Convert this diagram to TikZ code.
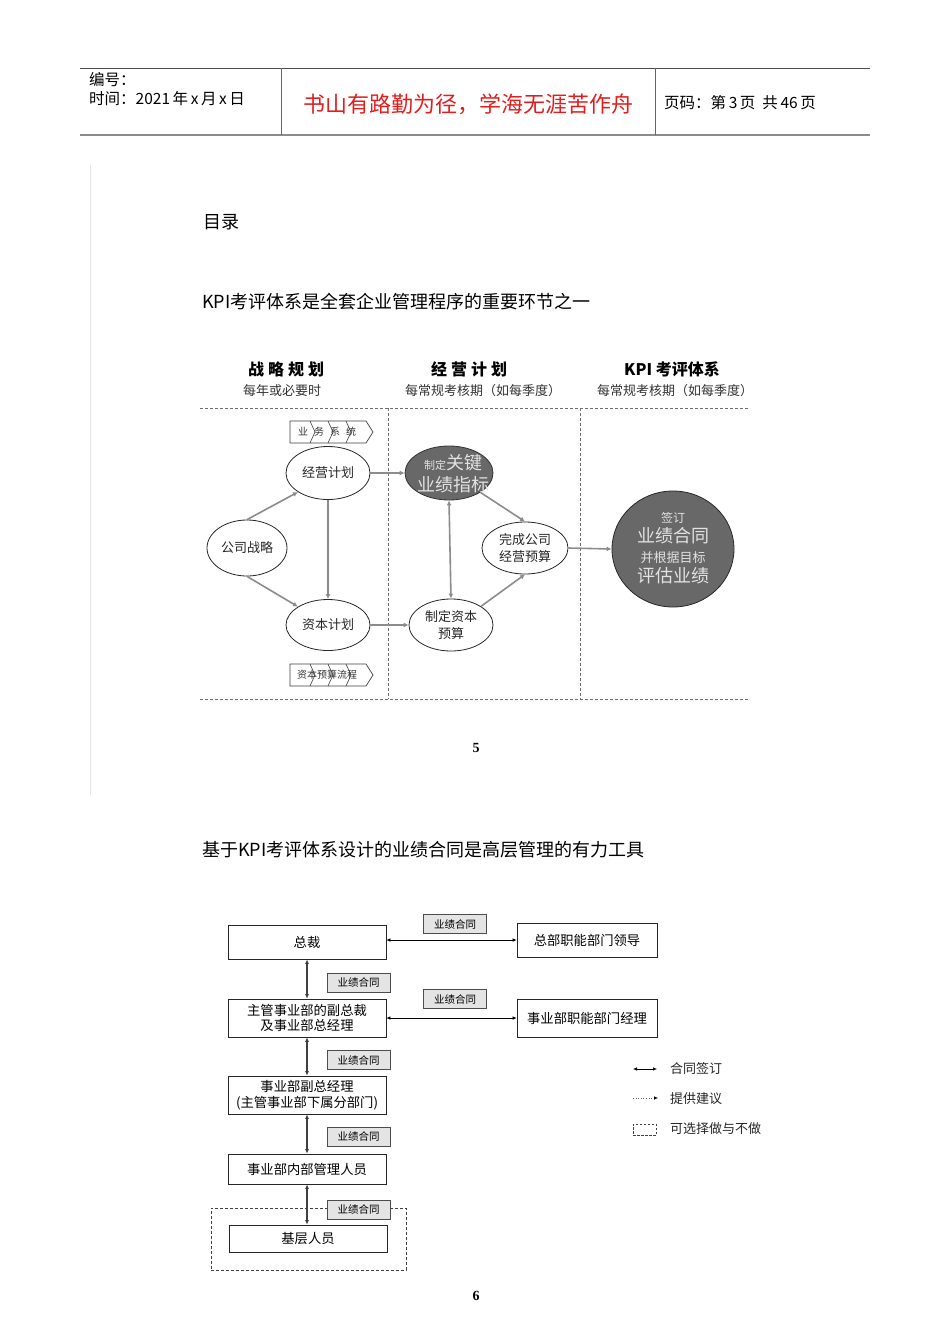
\documentclass[tikz,border=0pt]{standalone}
\usepackage{fontspec}
\setmainfont{Noto Sans CJK SC}
\newfontfamily\numserif{Liberation Serif}
\usetikzlibrary{shapes.geometric,arrows.meta}
\definecolor{arrg}{HTML}{8C8C8C}
\definecolor{dashg}{HTML}{6E6E6E}
\definecolor{darkf}{HTML}{686868}
\definecolor{lightt}{HTML}{E2E2E2}
\definecolor{hred}{HTML}{E01E1E}
\definecolor{lblf}{HTML}{E4E4E4}
\newcommand\fsz[1]{\fontsize{#1}{#1}\selectfont}
\newcommand\chev[3]{%
  \draw[black!75, line width=0.7pt, fill=white] (#1,#2) -- ++(76,0) -- ++(7,11) -- ++(-7,11) -- ++(-76,0) -- cycle;
  \foreach \d in {20,38,56}{\draw[black!75, line width=0.6pt] (#1+\d,#2) -- ++(5,11) -- ++(-5,11);}
}
\begin{document}
\begin{tikzpicture}[x=1pt,y=-1pt,
  ell/.style={ellipse, draw=black!85, line width=0.8pt, fill=white, inner sep=0pt},
  ellt/.style={inner sep=0pt, align=center, text=black!85, font=\fontsize{13}{17}\selectfont},
  garr/.style={draw=arrg, line width=1.6pt, -{Latex[length=5pt,width=5pt]}},
  gdarr/.style={draw=arrg, line width=1.6pt, {Latex[length=5pt,width=5pt]}-{Latex[length=5pt,width=5pt]}},
  dsh/.style={draw=dashg, line width=0.9pt, dash pattern=on 3pt off 2pt},
  bx/.style={draw=black!85, line width=0.7pt, fill=white, inner sep=0pt, align=center, font=\fontsize{13.3}{16}\selectfont},
  lb/.style={draw=black!70, fill=lblf, line width=0.8pt, inner sep=0pt, minimum width=63pt, minimum height=19pt, font=\fontsize{10.5}{12}\selectfont},
  barr/.style={black, line width=0.6pt, {Latex[length=4pt,width=3.5pt]}-{Latex[length=4pt,width=3.5pt]}},
  varr/.style={black!75, line width=1.3pt, {Latex[length=4.5pt,width=4pt]}-{Latex[length=4.5pt,width=4pt]}},
  txt/.style={inner sep=0pt}
]
\useasboundingbox (0,0) rectangle (950,1344);
\fill[white] (0,0) rectangle (950,1344);

% ---------- header ----------
\draw[black!70, line width=1pt] (80,68) -- (870,68);
\draw[black!45, line width=2.2pt] (80,135) -- (870,135);
\draw[black!60, line width=0.8pt] (281,68) -- (281,135);
\draw[black!60, line width=0.8pt] (655,68) -- (655,135);
\node[txt, anchor=west, font=\fsz{15.5}] (h1) at (89,80) {编号：};
\node[txt, anchor=west, font=\fsz{15.5}] (h2) at (89,99) {时间：2021\,年\,x\,月\,x\,日};
\node[txt, text=hred, font=\fsz{22}] (h3) at (468,104) {书山有路勤为径，学海无涯苦作舟};
\node[txt, anchor=west, font=\fsz{15.5}] (h4) at (664,103) {页码：第\,3\,页\ \ 共\,46\,页};

% faint left rule
\draw[black!10, line width=1pt] (90,165) -- (90,795);

% ---------- titles ----------
\node[txt, anchor=west, font=\fsz{18}] (t0) at (203,222) {目录};
\node[txt, anchor=west, font=\fsz{18}] (t1) at (202,302) {KPI考评体系是全套企业管理程序的重要环节之一};

% column headings
\node[txt, font=\bfseries\fsz{16}] (c1) at (286,369) {战\kern4pt 略\kern4pt 规\kern4pt 划};
\node[txt, font=\fsz{13}, text=black!80] (c1s) at (282,391) {每年或必要时};
\node[txt, font=\bfseries\fsz{16}] (c2) at (469,369) {经\kern4pt 营\kern4pt 计\kern4pt 划};
\node[txt, font=\fsz{13}, text=black!80] (c2s) at (483,391) {每常规考核期（如每季度）};
\node[txt, font=\bfseries\fsz{16}] (c3) at (672,369) {KPI 考评体系};
\node[txt, font=\fsz{13}, text=black!80] (c3s) at (675,391) {每常规考核期（如每季度）};

% dashed frame
\draw[dsh] (200,408) -- (750,408);
\draw[dsh] (200,699) -- (750,699);
\draw[dsh] (388,408) -- (388,699);
\draw[dsh] (580,408) -- (580,699);

% chevrons
\chev{290}{421}{}
\node[txt, font=\fsz{10}, text=black!80] (cv1) at (327,432) {业\kern6pt 务\kern6pt 系\kern6pt 统};
\chev{290}{664}{}
\node[txt, font=\fsz{10}, text=black!80] (cv2) at (327,675) {资本预算流程};

% ellipses
\node[ell, minimum width=80pt, minimum height=56pt] (gs) at (247,548) {};
\node[ell, minimum width=84pt, minimum height=53pt] (jy) at (328,473) {};
\node[ell, minimum width=84pt, minimum height=51pt] (zb) at (328,625) {};
\node[ell, minimum width=88pt, minimum height=54pt, fill=darkf, draw=black!80] (gk) at (449,473) {};
\node[ell, minimum width=86pt, minimum height=52pt] (wc) at (525,548) {};
\node[ell, minimum width=84pt, minimum height=52pt] (zy) at (451,625) {};
\node[ell, minimum width=122pt, minimum height=116pt, fill=darkf, draw=black!85] (qd) at (673,549) {};

\node[ellt] (gst) at (gs) {公司战略};
\node[ellt] (jyt) at (jy) {经营计划};
\node[ellt] (zbt) at (zb) {资本计划};
\node[ellt] (wct) at (wc) {完成公司\\经营预算};
\node[ellt] (zyt) at (zy) {制定资本\\预算};
\node[ellt, text=lightt, font=\fontsize{18}{22}\selectfont] (gkt) at (453,474) {{\fontsize{11}{22}\selectfont 制定}关键\\业绩指标};
\node[ellt, text=lightt, font=\fontsize{18}{20}\selectfont] (qdt) at (673,548) {{\fontsize{12}{20}\selectfont 签订}\\业绩合同\\{\fontsize{13}{20}\selectfont 并根据目标}\\评估业绩};

% gray arrows
\draw[garr] (gs.north) -- (jy.south west);
\draw[garr] (gs.south) -- (zb.north west);
\draw[garr] (jy.south) -- (zb.north);
\draw[garr] (jy.east) -- (gk.west);
\draw[garr] (zb.east) -- (zy.west);
\draw[gdarr] (gk.south) -- (zy.north);
\draw[garr] (gk.south east) -- (wc.north);
\draw[garr] (zy.north east) -- (wc.south);
\draw[garr] (wc.east) -- (qd.west);

\node[txt, font=\numserif\bfseries\fsz{14}] (p5) at (476,748) {5};

% ---------- second diagram ----------
\node[txt, anchor=west, font=\fsz{18}] (t2) at (202,850) {基于KPI考评体系设计的业绩合同是高层管理的有力工具};

\node[draw=black!75, line width=0.8pt, dash pattern=on 3pt off 2pt, minimum width=195pt, minimum height=62pt, inner sep=0pt] (opt) at (308.5,1239) {};

\node[bx, minimum width=158pt, minimum height=34pt] (zc) at (307,942) {总裁};
\node[bx, minimum width=140pt, minimum height=34pt] (hq) at (587,940) {总部职能部门领导};
\node[bx, minimum width=158pt, minimum height=38pt, font=\fontsize{13.3}{15.5}\selectfont] (fz) at (307,1018) {主管事业部的副总裁\\及事业部总经理};
\node[bx, minimum width=140pt, minimum height=38pt] (sz) at (587,1018) {事业部职能部门经理};
\node[bx, minimum width=158pt, minimum height=38pt, font=\fontsize{13.3}{15.5}\selectfont] (fj) at (307,1095) {事业部副总经理\\(主管事业部下属分部门)};
\node[bx, minimum width=158pt, minimum height=30pt] (nb) at (307,1169) {事业部内部管理人员};
\node[bx, minimum width=158pt, minimum height=27pt] (jc) at (308,1238.5) {基层人员};

\node[lb] (l1) at (455,924) {业绩合同};
\node[lb] (l2) at (358.5,982.5) {业绩合同};
\node[lb] (l3) at (455,999) {业绩合同};
\node[lb] (l4) at (358.5,1060) {业绩合同};
\node[lb] (l5) at (358.5,1136.5) {业绩合同};
\node[lb] (l6) at (358.5,1209.5) {业绩合同};

\draw[barr] (zc.east |- hq.west) -- (hq.west);
\draw[barr] (fz.east) -- (fz.east -| sz.west);
\draw[varr] (zc.south) -- (fz.north);
\draw[varr] (fz.south) -- (fj.north);
\draw[varr] (fj.south) -- (nb.north);
\draw[varr] (nb.south) -- (nb.south |- jc.north);

% legend
\coordinate (lg1a) at (633,1069);
\coordinate (lg1b) at (657,1069);
\draw[barr] (lg1a) -- (lg1b);
\node[txt, anchor=west, font=\fsz{13}, text=black!85] (lt1) at (670,1069) {合同签订};
\coordinate (lg2a) at (633,1098);
\coordinate (lg2b) at (658,1098);
\draw[black!60, line width=0.6pt, dotted, -{Latex[length=4pt,width=3.5pt,black]}] (lg2a) -- (lg2b);
\node[txt, anchor=west, font=\fsz{13}, text=black!85] (lt2) at (670,1099) {提供建议};
\node[draw=black!75, line width=0.8pt, dash pattern=on 2.5pt off 1.5pt, minimum width=23pt, minimum height=11pt, inner sep=0pt] (lg3) at (644.5,1129.5) {};
\node[txt, anchor=west, font=\fsz{13}, text=black!85] (lt3) at (670,1129) {可选择做与不做};

\node[txt, font=\numserif\bfseries\fsz{14}] (p6) at (476,1296) {6};
\end{tikzpicture}
\end{document}
